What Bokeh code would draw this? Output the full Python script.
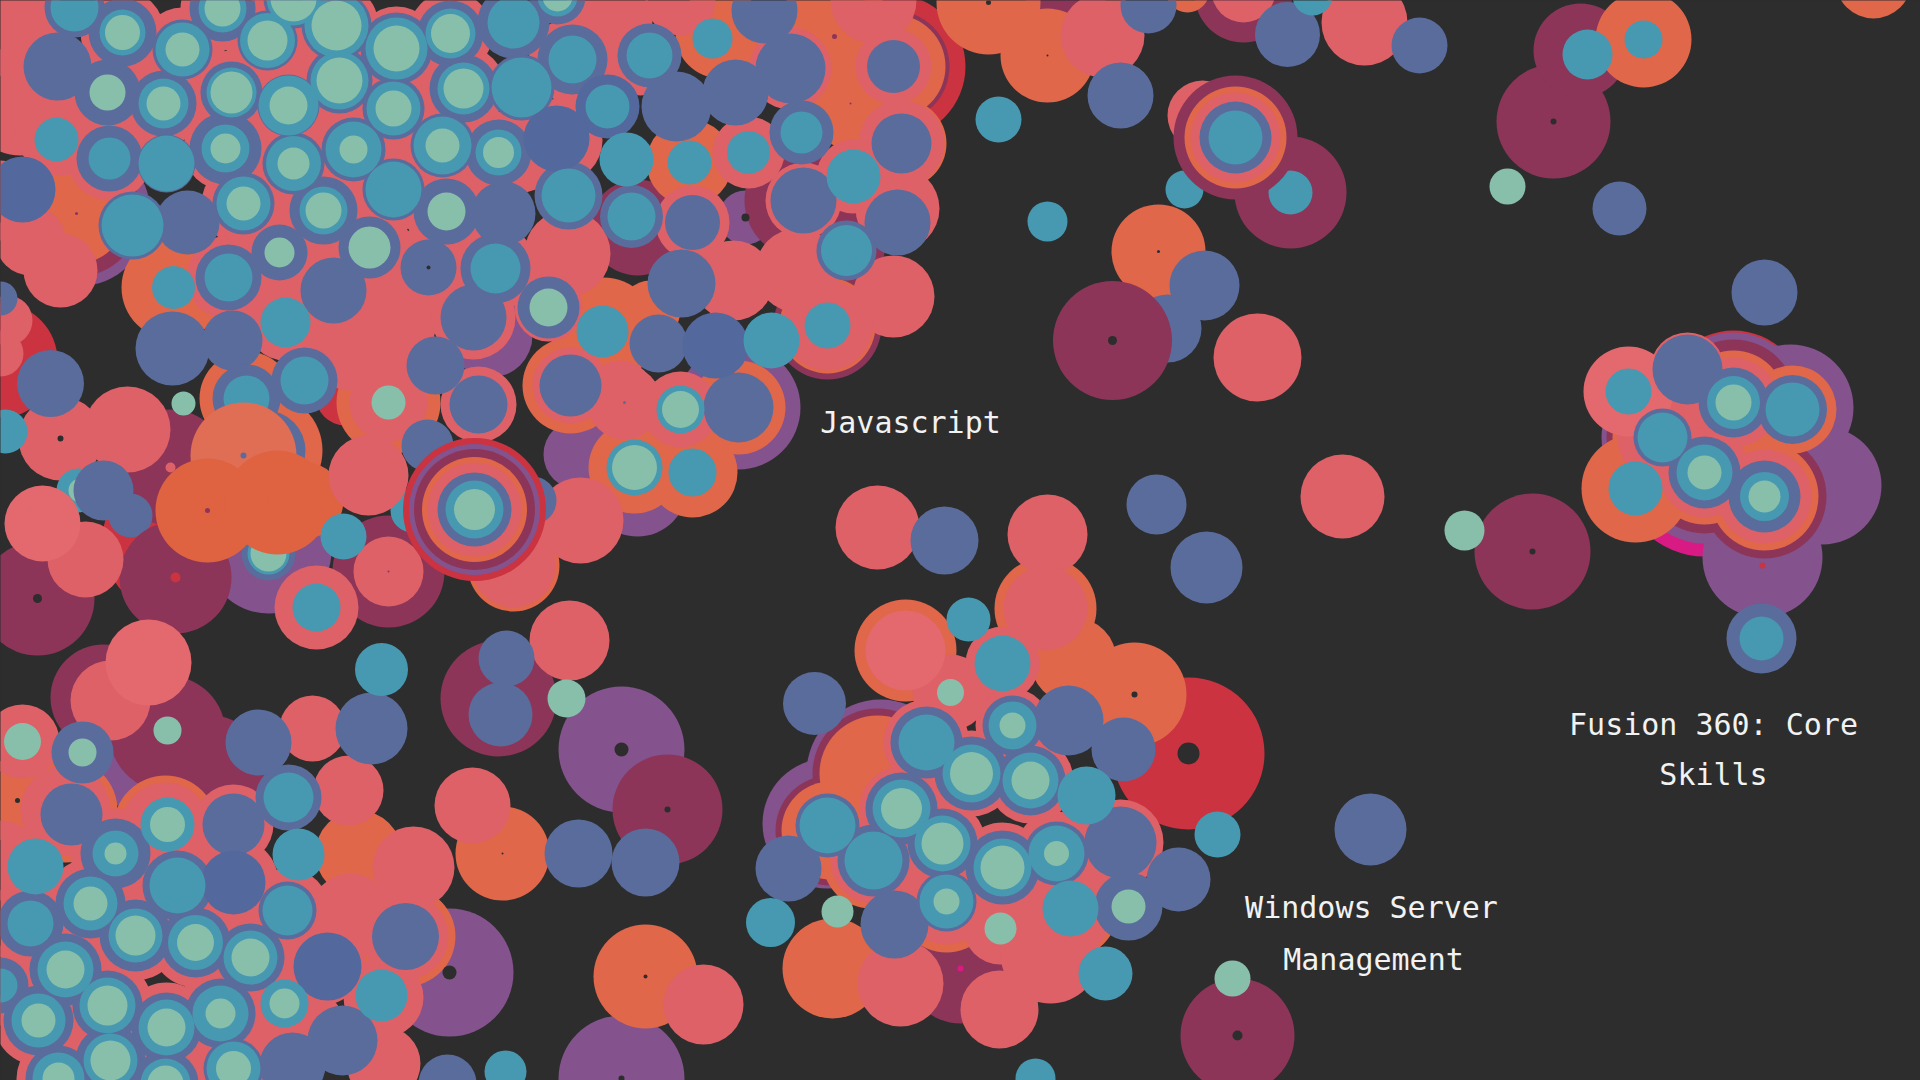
from bokeh.plotting import figure
from bokeh.models import Range1d, ColumnDataSource
from bokeh.embed import file_html
from bokeh.resources import INLINE
from bokeh.core.properties import value

BG = "#2d2d2d"
C = dict(red="#cb3340", magenta="#d81b84", purple="#84528c", maroon="#8c3558", orange="#e0674a",
         pink="#de6168", blue="#5a6c9c", teal="#4699b0", green="#88bfab", dark="#2d2d2d",
         pink_light="#e3696f", blue_dark="#53689c", orange_deep="#df6340", orange_light="#e06e55")

label_text = ["Javascript", "Fusion 360: Core", "Skills", "Windows Server", "Management"]
label_x = [910, 1713, 1713, 1371, 1373]
label_y = [422, 724, 774, 907, 959]

red_back = [(893,66,72),(0,360,57),(177,540,75),(345,395,30),(1188,753,76),(1733,402,72)]
magenta_back = [(1704,472,84)]
maroon_low = [(170,467,58)]
blue_low = [(130,515,22)]
purple_back = [(77,213,73),(745,217,27),(490,335,42),(738,407,62),(637,486,50),(578,454,35),(268,550,63),
               (449,972,64),(118,775,30),(621,749,63),(621,1078,63),(827,823,65),(880,773,74),
               (1762,557,60),(1822,485,59),(1790,407,63),(1733,402,70),(1704,472,71),(1662,437,61)]
maroon_back = [(77,213,63),(802,200,58),(637,227,48),(893,66,56),(827,325,54),(846,250,38),(37,598,57),(175,577,56),
               (388,571,56),(103,697,53),(167,733,58),(210,770,55),(498,698,58),(667,809,55),(1065,-2,40),
               (1243,-7,49),(1290,192,56),(1553,121,57),(1580,50,47),(1532,551,58),(1237,1035,57),(960,968,55),
               (877,773,65),(830,830,55),(1733,402,63),(1704,472,61),(1764,496,62),(1662,437,56)]
orange_back = [(76,213,50),(173,287,52),(720,33,45),(834,36,60),(850,103,45),(893,66,52),(689,162,43),(603,330,53),
               (650,310,30),(570,385,48),(738,407,47),(634,467,46),(692,472,45),(513,565,46),(827,325,48),(901,143,45),
               (246,398,47),(388,402,52),(265,450,57),(17,800,43),(65,810,52),(165,827,52),(358,853,43),(405,936,50),
               (502,853,47),(645,976,52),(988,2,52),(1047,55,47),(1158,251,47),(1187,-10,22),(1643,39,48),(1873,-20,38),
               (905,650,51),(1045,608,51),(1073,660,43),(1134,694,52),(832,968,50),(877,773,58),(830,830,49),(870,860,48),
               (946,901,51),(1070,910,47),(1733,402,52),(1704,472,52),(1764,496,54),(1635,488,54),(1662,437,50),(1792,409,44)]
pink_back = [(20,30,50),(20,100,55),(60,130,45),(0,200,40),(30,240,35),(60,270,37),(7,320,25),(0,353,23),
             (122,32,42),(182,49,42),(222,8,42),(267,40,42),(293,0,42),(336,25,42),(396,48,42),(450,33,42),(339,80,42),
             (393,108,42),(463,88,42),(107,92,42),(163,103,42),(231,92,42),(288,105,42),(109,158,42),(225,148,42),
             (293,163,42),(353,149,42),(442,145,42),(498,153,42),(393,189,42),(243,203,42),(323,210,42),(446,211,42),
             (228,277,42),(279,252,42),(369,247,42),(428,267,42),(495,268,42),(333,290,42),(400,313,40),(473,317,42),
             (285,320,40),(350,350,40),(397,337,37),(520,150,42),(570,60,42),(560,140,42),(607,20,45),(680,0,35),(640,60,35),
             (567,253,43),(790,68,41),(873,0,43),(748,152,36),(901,143,43),(853,176,37),(803,200,38),(897,208,42),(893,296,41),
             (733,280,40),(797,270,42),(827,325,45),(893,66,38),(692,222,37),(548,307,34),(570,385,38),(620,393,33),(624,402,37),
             (680,409,38),(478,404,38),(580,520,43),(513,565,42),(60,438,42),(127,429,43),(388,402,39),(85,559,38),
             (316,607,42),(388,571,35),(110,700,40),(22,741,37),(65,810,45),(165,827,45),(233,824,40),(348,790,35),
             (312,728,33),(413,867,41),(350,913,40),(383,997,40),(405,936,43),(383,1063,37),(472,805,38),
             (135,935,45),(195,942,45),(250,957,45),(90,903,45),(65,969,45),(107,1005,45),(166,1027,45),(220,1013,45),
             (38,1020,45),(30,923,45),(177,885,45),(233,882,45),(287,910,42),(115,853,45),(110,1060,45),(233,1068,42),(165,1083,45),
             (58,1078,42),(300,1030,45),(0,985,40),(0,860,40),(320,960,45),
             (569,640,40),(703,1004,40),(877,527,42),(1047,534,40),(1342,496,42),(1045,608,42),(1002,663,37),
             (950,692,38),(926,742,43),(971,773,43),(1030,780,43),(1012,725,37),(901,808,42),(873,860,43),(942,843,43),(1002,867,45),
             (1056,853,42),(1120,842,43),(946,901,43),(1070,910,43),(1000,927,37),(1050,953,50),(900,983,43),(999,1009,39),
             (1102,35,42),(1202,115,35),(1243,-10,32),(1364,22,43),(1257,357,44),
             (1687,369,37),(1733,402,45),(1662,437,45),(1704,472,45),(1764,496,47)]
pink_light = [(148,662,43),(905,650,40),(1628,391,45)]
blue_back = [(74,7,30),(122,32,34),(57,66,34),(182,49,30),(222,8,33),(267,40,30),(293,-2,30),(336,25,35),(396,48,36),(450,33,33),
             (339,80,33),(393,108,31),(463,88,34),(107,92,33),(163,103,33),(231,92,31),(288,105,31),(109,158,33),(166,163,29),
             (225,148,36),(293,163,31),(353,149,32),(442,145,32),(498,152,33),(393,189,31),(243,203,31),(323,210,34),(446,211,33),
             (132,225,34),(187,222,32),(228,277,33),(279,252,28),(369,247,31),(428,267,28),(495,268,35),(333,290,33),
             (473,317,33),(503,213,32),(513,22,36),(557,-4,28),(0,298,17),(172,348,37),(232,340,30),
             (572,59,35),(521,87,33),(649,55,32),(764,10,33),(790,68,35),(735,92,33),(676,106,35),(801,132,32),
             (893,66,26.5),(901,143,30),(803,200,33),(897,222,33),(846,250,30),(658,343,29),(548,307,31),(568,195,34),
             (631,216,31.5),(692,222,27.5),(681,283,34),(570,385,31),(738,407,35),(435,365,29),(478,404,29),(427,445,26),(532,500,24),
             (50,383,33.5),(304,380,33),(246,398,34),(265,450,40),(268,553,27),
             (82,752,31),(71,814,31),(233,824,31),(288,797,33),(258,742,33),(371,728,36),(115,853,35),(177,885,35),(287,910,29),
             (90,903,35),(30,923,33),(135,935,36),(195,942,35),(250,957,34),(405,936,33.5),(65,969,36),(107,1005,35),(166,1027,35),
             (220,1013,35),(38,1020,35),(0,985,28),(110,1060,35),(233,1068,30),(58,1078,33),(165,1083,33),(292,1065,33),(342,1040,35),(447,1083,29),
             (500,714,32),(506,658,28),(578,853,34),(645,862,34),
             (814,703,31.5),(1012,725,30),(1068,720,35),(1123,749,32),(926,742,36),(971,773,37),(1030,780,35),(901,808,36),(827,825,32),(942,843,35),
             (873,860,36),(1002,867,37),(1056,853,32),(1120,842,36),(1178,879,32),(788,868,33),(946,901,30),(894,924,34),(1128,906,34),
             (1148,5,28),(1120,95,33),(1204,285,35),(1167,328,34),(1287,34,32.5),(1419,45,28),
             (1156,504,30),(1206,567,36),(944,540,34),(1370,829,36),(1619,208,27),
             (1764,292,33),(1761,638,35),(1687,369,35),(1733,402,35),(1792,409,34.5),(1662,437,29),(1704,472,36),(1764,496,36)]
blue_dark = [(22,189,33),(607,106,32),(556,138,33),(715,345,33),(327,966,34),(233,882,32)]
teal_back = [(74,7,24),(122,32,23),(182,49,27),(222,8,24),(267,40,27.5),(293,-2,27),(336,25,32),(396,48,31),(450,33,25),(339,80,29),(393,108,27),
             (463,88,26),(163,103,25),(231,92,25),(288,105,30),(109,158,21),(166,163,28),(225,148,24),(293,163,27.5),(353,149,28),(442,145,29),(498,152,23),
             (393,189,28),(243,203,27),(323,210,24),(132,225,31),(228,277,24),(495,268,25),(513,22,26),(557,-4,20),(56,139,22),(173,287,21.5),(285,322,25),
             (572,59,24),(521,87,30),(607,106,22),(649,55,23),(712,38,20),(626,159,27),(689,162,22),(748,152,21.5),(801,132,21),(853,176,27),(846,250,25.5),
             (827,325,23),(771,340,28),(602,331,26),(568,195,27),(631,216,24),(680,409,24),(634,467,28),(692,472,24),
             (5,431,22),(78,490,22),(304,380,24),(246,398,23),(412,510,22),(268,553,21),(316,607,24),
             (381,669,26.5),(167,824,27),(288,797,25),(115,853,23),(35,866,28),(298,854,26),(177,885,28),(287,910,25),(90,903,27),(30,923,23),(135,935,27),
             (195,942,27.5),(250,957,27),(381,995,26),(65,969,28),(107,1005,28),(166,1027,28),(220,1013,28),(284,1003,24),(38,1020,27),(0,985,17),(110,1060,27),
             (233,1068,27),(58,1078,26),(165,1083,25),(505,1071,21),
             (968,619,22),(1002,663,28),(1012,725,24),(926,742,28),(971,773,29),(1030,780,28),(1086,795,29),(901,808,29),(827,825,28),(942,843,28),(873,860,29),
             (1002,867,29),(1056,853,28),(770,922,24.5),(946,901,27),(1070,908,28),(1105,973,27),(1217,834,23),
             (998,119,23),(1047,221,20),(1184,189,19),(1290,192,22),(1312,-5,20),(1587,54,25),(1643,39,19),(1035,1078,20),
             (1761,638,22),(1628,391,23),(1733,402,26.5),(1792,409,27),(1662,437,25),(1704,472,28),(1635,488,27),(1764,496,24.5)]
green_back = [(122,32,17.5),(182,49,17),(222,8,18),(267,40,20),(293,-2,23),(336,25,25),(396,48,23),(450,33,19.5),(339,80,23),(393,108,18),(463,88,20),(107,92,18),
              (163,103,17),(231,92,21),(288,105,19),(225,148,15),(293,163,16),(353,149,14),(442,145,17),(498,152,15.5),(243,203,17),(323,210,18),(446,211,19),
              (279,252,15),(369,247,21),(557,-4,15),(548,307,19),(680,409,18.5),(634,467,22.5),(80,490,12),(183,403,12),(388,402,17),(268,553,18),
              (167,730,14),(22,741,18.5),(82,752,14),(167,824,17.5),(115,853,11),(90,903,17),(135,935,20),(195,942,18.5),(250,957,19),(65,969,19),(107,1005,20),(166,1027,19),
              (220,1013,15),(284,1003,15),(38,1020,17),(110,1060,20),(233,1068,17.5),(58,1078,16),(165,1083,18),(566,698,19),
              (950,692,13.5),(1012,725,13),(971,773,21.5),(1030,780,19),(901,808,20.5),(942,843,21),(1002,867,22),(1056,853,12.5),(837,911,16),(946,901,13),(1000,928,16),(1128,906,17),
              (1464,530,20),(1232,978,18),(1507,186,18),(1733,402,18),(1704,472,17),(1764,496,16)]
dark_dots = [(428,267,2),(745,217,4),(60,438,3),(37,598,4.5),(449,972,7),(17,800,2.5),(621,749,7),(667,809,3),(645,976,2),(621,1078,3),
             (1134,694,3),(1188,753,11),(1237,1035,5),(988,2,2.5),(1047,55,1),(1158,251,1.5),(1112,340,4.5),(1553,121,3),(1532,551,3),(502,853,1)]
maroon_dots = [(76,213,1.5),(834,36,2.5),(850,103,1),(207,510,2.5),(388,571,1)]
blue_dots = [(243,455,3),(624,402,1.5)]
red_dots = [(175,577,5),(1762,565,3)]
pink_dots = [(170,467,5)]
magenta_dots = [(960,968,3)]

front_orange_light = [(243,455,53)]
front_orange_deep = [(207,510,52),(277,502,52),(305,500,38)]
front_pink = [(368,475,40)]
front_pink_light = [(42,523,38)]
front_blue = [(103,490,30)]
front_teal = [(343,536,23)]
top_stack1_red = [(474,509,71.5)]
top_stack1_purple = [(474,509,65.5)]
top_stack1_maroon = [(474,509,60.5)]
top_stack1_orange = [(474,509,52.5)]
top_stack1_pink = [(474,509,47)]
top_stack1_blue = [(474,509,37)]
top_stack1_teal = [(474,509,29)]
top_stack1_green = [(474,509,20.5)]
top_stack2_maroon = [(1235,137,62),(1112,340,59.5)]
top_stack2_orange = [(1235,137,51)]
top_stack2_pink = [(1235,137,45)]
top_stack2_blue = [(1235,137,36)]
top_stack2_teal = [(1235,137,27)]

layers = [("red",red_back),("maroon",maroon_low),("blue",blue_low),("magenta",magenta_back),("purple",purple_back),("maroon",maroon_back),
          ("orange",orange_back),("pink",pink_back),("pink_light",pink_light),("blue",blue_back),("blue_dark",blue_dark),("teal",teal_back),("green",green_back),
          ("pink_light",front_pink_light),("blue",front_blue),
          ("orange_light",front_orange_light),("orange_deep",front_orange_deep),("pink",front_pink),("teal",front_teal),
          ("red",top_stack1_red),("purple",top_stack1_purple),("maroon",top_stack1_maroon),("orange",top_stack1_orange),("pink",top_stack1_pink),
          ("blue",top_stack1_blue),("teal",top_stack1_teal),("green",top_stack1_green),
          ("maroon",top_stack2_maroon),("orange",top_stack2_orange),("pink",top_stack2_pink),("blue",top_stack2_blue),("teal",top_stack2_teal),
          ("dark",dark_dots),("maroon",maroon_dots),("blue",blue_dots),("red",red_dots),("pink",pink_dots),("magenta",magenta_dots)]

p = figure(width=1920, height=1080, x_range=Range1d(0,1920), y_range=Range1d(1080,0),
           output_backend="svg", toolbar_location=None, min_border=0,
           background_fill_color=BG, border_fill_color=BG, outline_line_color=None)
p.axis.visible = False
p.grid.visible = False
for name, rows in layers:
    xs, ys, rs = zip(*rows)
    p.circle(x=list(xs), y=list(ys), radius=list(rs), fill_color=C[name], line_color=None)

src = ColumnDataSource(dict(x=label_x, y=label_y, t=label_text))
p.text(x="x", y="y", text="t", source=src, text_color="#f2f2f2", text_align="center", text_baseline="middle",
       text_font=value("DejaVu Sans Mono"), text_font_size="30px")

html = file_html(p, INLINE)
html = html.replace("<head>", "<head><style>html,body{background:%s;}</style>" % BG, 1)
open("out.html","w").write(html)
